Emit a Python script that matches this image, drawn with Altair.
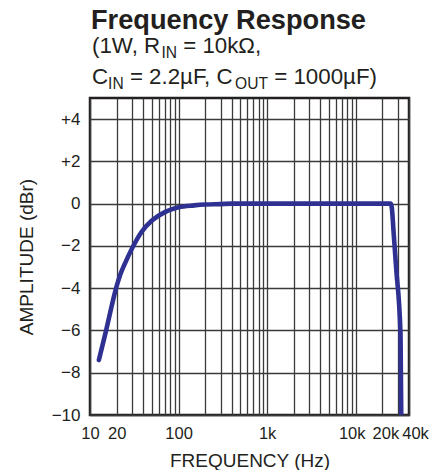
import altair as alt
import pandas as pd

# ---- data ----
freq = [12.6, 15, 20, 22, 25, 30, 38, 50, 70, 100, 150, 200, 300, 400, 1000,
        10000, 25000, 25600, 26700, 28700, 32100, 32700]
amp = [-7.4, -6.1, -3.9, -3.35, -2.8, -2.1, -1.35, -0.8, -0.4, -0.17, -0.08,
       -0.04, -0.02, 0, 0, 0, 0, -0.2, -1.25, -3.1, -6.2, -10]

grid_freqs = ([10, 20, 30, 40, 50, 60, 70, 80, 90] +
              [100, 200, 300, 400, 500, 600, 700, 800, 900] +
              [1000, 2000, 3000, 4000, 5000, 6000, 7000, 8000, 9000] +
              [10000, 20000, 30000, 40000])
tick_labels = {10: "10", 20: "20", 100: "100", 1000: "1k", 10000: "10k",
               20000: "20k", 40000: "40k"}
amp_ticks = [-10, -8, -6, -4, -2, 0, 2, 4]

title_text = "Frequency Response"
line1 = [("(1W, R", False), ("IN", True), (" = 10kΩ,", False)]
line2 = [("C", False), ("IN", True), (" = 2.2µF, C", False), ("OUT", True),
         (" = 1000µF)", False)]

FONT = "Liberation Sans"
INK = "#231f20"
BLUE = "#2e3192"

# Arial / Liberation Sans advance widths (per 1000 em)
ADV = {" ": 278, "(": 333, ")": 333, ",": 278, ".": 278, "=": 584,
       "W": 944, "R": 722, "C": 722, "I": 278, "N": 722, "O": 778, "U": 722,
       "T": 611, "F": 611, "k": 500, "Ω": 768, "µ": 576}
for d in "0123456789":
    ADV[d] = 556


def text_w(s, size):
    return sum(ADV.get(c, 556) for c in s) * size / 1000.0


W, H = 319, 317
df = pd.DataFrame({"freq": freq, "amp": amp})

label_expr = " : ".join(f"datum.value == {k} ? '{v}'" for k, v in tick_labels.items()) + " : ''"
label_offset = {"condition": [{"test": "datum.value == 10000", "value": -4},
                              {"test": "datum.value == 20000", "value": 3},
                              {"test": "datum.value == 40000", "value": 6}],
                "value": 0}

curve = alt.Chart(df).mark_line(
    color=BLUE, strokeWidth=4.6, interpolate="monotone", strokeCap="round", clip=True
).encode(
    x=alt.X("freq:Q",
            scale=alt.Scale(type="log", domain=[10, 40000], nice=False),
            axis=alt.Axis(values=grid_freqs, labelExpr=label_expr, labelOverlap=False,
                          labelFlush=False, labelOffset=label_offset,
                          title="FREQUENCY (Hz)", grid=True,
                          ticks=False, tickSize=0, domain=False, labelPadding=10,
                          labelFontSize=16.5, titleFontSize=19, titleFontWeight="normal",
                          titleBaseline="top", titleY=36, titleX=W / 2)),
    y=alt.Y("amp:Q",
            scale=alt.Scale(domain=[-10, 5], nice=False),
            axis=alt.Axis(values=amp_ticks,
                          labelExpr="datum.value > 0 ? '+' + datum.label : datum.label",
                          title="AMPLITUDE (dBr)", grid=True, ticks=False, tickSize=0,
                          domain=False, labelPadding=10, labelFontSize=17,
                          titleFontSize=19, titleFontWeight="normal",
                          titleX=-54, titleY=H / 2, titleBaseline="bottom")),
)

layers = [curve]


def seg(txt, x, y, size, bold=False):
    return alt.Chart(alt.Data(values=[{"k": 1}])).mark_text(
        align="left", baseline="alphabetic", font=FONT, fontSize=size,
        fontWeight="bold" if bold else "normal", color=INK
    ).encode(x=alt.value(x), y=alt.value(y), text=alt.value(txt))


layers.append(seg(title_text, 1, -69, 27.2, bold=True))

MAIN, SUB = 22.3, 15.6
for parts, base in ((line1, -45), (line2, -14)):
    x = 2
    for txt, is_sub in parts:
        size = SUB if is_sub else MAIN
        stripped = txt.lstrip(" ")
        lead = text_w(txt[: len(txt) - len(stripped)], size)
        layers.append(seg(stripped, x + lead, base + (5 if is_sub else 0), size))
        x += text_w(txt, size)

chart = alt.layer(*layers).properties(
    width=W, height=H,
    autosize=alt.AutoSizeParams(type="none"),
    padding={"left": 82, "top": 90, "right": 20, "bottom": 55},
).configure_view(
    stroke=INK, strokeWidth=2.5
).configure_axis(
    gridColor="#3a3a3a", gridWidth=1.3, gridOpacity=1,
    labelFont=FONT, titleFont=FONT, labelColor=INK, titleColor=INK,
)

chart.save("out.html", embed_options={"renderer": "svg", "actions": False})
